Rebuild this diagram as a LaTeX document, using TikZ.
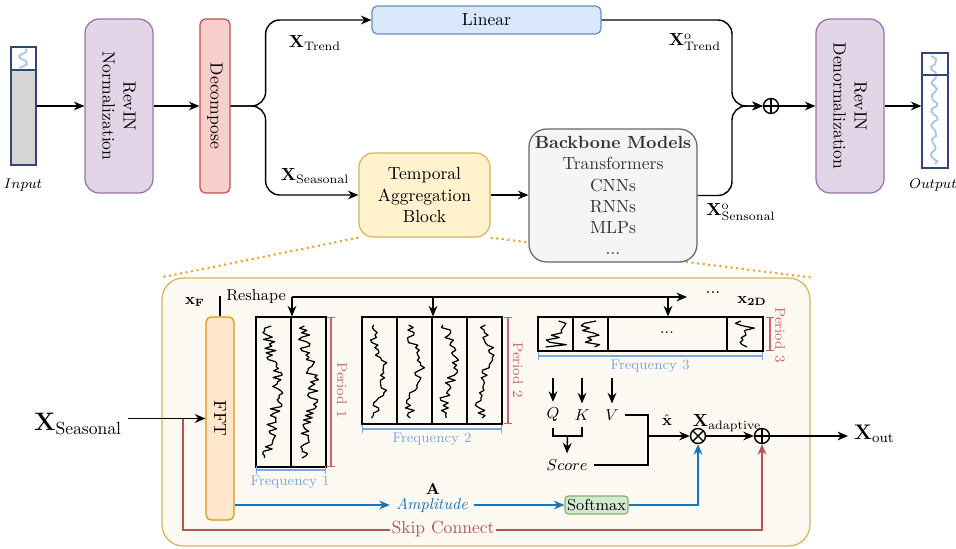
\documentclass[tikz,border=0pt]{standalone}
\usepackage{amsmath}
\usepackage{tikz}
\usetikzlibrary{arrows.meta}
\definecolor{revfill}{RGB}{225,213,231}
\definecolor{revline}{RGB}{150,115,166}
\definecolor{decfill}{RGB}{248,206,204}
\definecolor{decline}{RGB}{184,84,80}
\definecolor{linfill}{RGB}{218,232,252}
\definecolor{linline}{RGB}{108,142,191}
\definecolor{tabfill}{RGB}{255,242,204}
\definecolor{tabline}{RGB}{214,182,86}
\definecolor{bbfill}{RGB}{245,245,245}
\definecolor{bbline}{RGB}{102,102,102}
\definecolor{bbtext}{RGB}{51,51,51}
\definecolor{bigfill}{RGB}{252,249,242}
\definecolor{fftfill}{RGB}{255,230,204}
\definecolor{fftline}{RGB}{215,155,0}
\definecolor{smfill}{RGB}{213,232,212}
\definecolor{smline}{RGB}{130,179,102}
\definecolor{dotc}{RGB}{232,168,40}
\definecolor{ampc}{RGB}{22,116,187}
\definecolor{skipc}{RGB}{184,84,80}
\definecolor{perc}{RGB}{204,102,102}
\definecolor{freqc}{RGB}{126,166,224}
\definecolor{barline}{RGB}{49,72,115}
\definecolor{bargray}{RGB}{213,213,213}
\definecolor{wavec}{RGB}{169,196,235}
\pgfdeclarelayer{bg}
\pgfsetlayers{bg,main}

\begin{document}
\begin{tikzpicture}[x=0.02cm,y=-0.02cm,
  box/.style={draw,line width=0.7pt,inner sep=0pt},
  arr/.style={-{Stealth[length=6pt,width=5pt]},line width=0.8pt},
  ln/.style={line width=0.8pt},
  opx/.style={circle,draw,line width=0.8pt,minimum size=0.3cm,inner sep=0pt},
  addop/.style={opx,path picture={\draw[line width=0.8pt] (path picture bounding box.north) -- (path picture bounding box.south) (path picture bounding box.west) -- (path picture bounding box.east);}},
  mulop/.style={opx,path picture={\draw[line width=0.8pt] (path picture bounding box.north west) -- (path picture bounding box.south east) (path picture bounding box.north east) -- (path picture bounding box.south west);}},
  wave/.style={line width=0.7pt,line join=round},
  pbar/.style={perc,line width=0.7pt,{Bar[width=5pt]}-{Bar[width=5pt]}},
  fbar/.style={freqc,line width=0.7pt,{Bar[width=5pt]}-{Bar[width=5pt]}}]
\useasboundingbox (0,0) rectangle (956,548);
\pgfmathsetseed{11}
% input series
\fill[bargray] (11,70) rectangle (36,165);
\draw[wavec,line width=1pt] plot[variable=\t,domain=49:68,samples=12] ({23+4*sin(30*\t)+rand},\t);
\node[draw=barline,line width=0.7pt,minimum width=0.5cm,minimum height=2.36cm,inner sep=0pt] (inp) at (23.5,106) {};
\draw[barline,line width=0.7pt] (inp.west |- 0,70) -- (inp.east |- 0,70);
\node[font=\footnotesize] (inplab) at (23,185) {$Input$};
% top row
\node[box,fill=revfill,draw=revline,rounded corners=8pt,minimum width=1.36cm,minimum height=3.48cm] (rin) at (119,106) {};
\node[rotate=-90,align=center] (rintxt) at (rin) {RevIN\\Normalization};
\node[box,fill=decfill,draw=decline,rounded corners=3pt,minimum width=0.6cm,minimum height=3.48cm] (dec) at (215,106) {};
\node[rotate=-90] (dectxt) at (dec) {Decompose};
\node[box,fill=linfill,draw=linline,rounded corners=3pt,minimum width=4.58cm,minimum height=0.56cm] (lin) at (486.5,20) {Linear};
\node[box,fill=tabfill,draw=tabline,rounded corners=8pt,minimum width=2.62cm,minimum height=1.68cm,align=center] (tab) at (424.5,195) {Temporal\\Aggregation\\Block};
\node[box,fill=bbfill,draw=bbline,text=bbtext,rounded corners=10pt,minimum width=3.36cm,minimum height=2.66cm,align=center] (bb) at (613,195.5) {\textbf{Backbone Models}\\Transformers\\CNNs\\RNNs\\MLPs\\...};
\node[addop] (add1) at (771,106) {};
\node[box,fill=revfill,draw=revline,rounded corners=8pt,minimum width=1.36cm,minimum height=3.48cm] (dnm) at (850,106) {};
\node[rotate=-90,align=center] (dnmtxt) at (dnm) {RevIN\\Denormalization};
% output series
\draw[wavec,line width=1pt] plot[variable=\t,domain=56:164,samples=40] ({934+3*sin(25*\t)+1.5*rand},\t);
\node[draw=barline,line width=0.7pt,minimum width=0.52cm,minimum height=2.3cm,inner sep=0pt] (outp) at (935,110.5) {};
\draw[barline,line width=0.7pt] (outp.west |- 0,75) -- (outp.east |- 0,75);
\node[font=\footnotesize,inner sep=1pt] (outlab) at (933,185) {$Output$};
% top arrows
\draw[arr] (inp.east) -- (rin.west);
\draw[arr] (rin.east) -- (dec.west);
\draw[arr,rounded corners=8pt] (dec.east) -- ++(35,0) |- (lin.west);
\draw[arr,rounded corners=8pt] (dec.east) -- ++(35,0) |- (tab.west);
\draw[arr] (tab.east) -- (tab.east -| bb.west);
\coordinate (mrg) at (732,106);
\draw[arr,rounded corners=8pt] (lin.east) -| (mrg) -- (add1.west);
\draw[arr,rounded corners=8pt] (bb.east) -| (mrg) -- (add1.west);
\draw[arr] (add1.east) -- (dnm.west);
\draw[arr] (dnm.east) -- (dnm.east -| outp.west);
\node (xtr) at (315,43) {$\mathbf{X}_{\mathrm{Trend}}$};
\node (xse) at (315,176) {$\mathbf{X}_{\mathrm{Seasonal}}$};
\node[inner sep=1pt] (xtro) at (695,42) {$\mathbf{X}^{\mathrm{o}}_{\mathrm{Trend}}$};
\node[inner sep=1pt] (xseo) at (741,212) {$\mathbf{X}^{\mathrm{o}}_{\mathrm{Sensonal}}$};
% zoomed block
\node[draw=tabline,fill=bigfill,line width=0.7pt,rounded corners=12pt,minimum width=12.96cm,minimum height=5.36cm] (big) at (486,412) {};
\begin{pgfonlayer}{bg}
\draw[dotc,dotted,line width=1.2pt] (tab.south west) -- (big.north west);
\draw[dotc,dotted,line width=1.2pt] (tab.south east) -- (big.north east);
\end{pgfonlayer}
\node[box,fill=fftfill,draw=fftline,rounded corners=3pt,minimum width=0.56cm,minimum height=4.06cm] (fft) at (220,418.5) {};
\node[rotate=-90] (ffttxt) at (fft) {FFT};
\node[font=\Large] (xs) at (78,424) {$\mathbf{X}_{\mathrm{Seasonal}}$};
\draw[arr] (xs.east |- fft.west) -- (fft.west);
% skip connection
\coordinate (skp) at (183,418.5);
\coordinate (skb) at (183,530);
\node[addop] (add2) at (762,436) {};
\draw[arr,skipc] (skp) -- (skb) -| (add2.south);
\node[fill=bigfill,text=skipc,inner sep=1pt] (skl) at (443,529) {Skip Connect};
% reshape
\node[font=\small] (resh) at (256,297) {Reshape};
\node[font=\small] (xf) at (195,302) {$\mathbf{x_F}$};
\draw[ln] (fft.north) |- (resh.west);
\coordinate (rse) at (687,297);
\draw[arr] (resh.east) -- (rse);
\node (dots1) at (713,293) {...};
\node[font=\small] (x2d) at (752,301) {$\mathbf{x_{2D}}$};
% frequency blocks
\node[draw,line width=0.7pt,minimum width=1.4cm,minimum height=3cm,inner sep=0pt] (f1) at (291,392) {};
\node[draw,line width=0.7pt,minimum width=2.8cm,minimum height=2.14cm,inner sep=0pt] (f2) at (432,370.5) {};
\node[draw,line width=0.7pt,minimum width=4.5cm,minimum height=0.68cm,inner sep=0pt] (f3) at (650.5,334) {};
\foreach \c in {291} \draw[line width=0.7pt] (\c,317) -- (\c,467);
\foreach \c in {397,432,467} \draw[line width=0.7pt] (\c,317) -- (\c,424);
\foreach \c in {573,608,727} \draw[line width=0.7pt] (\c,317) -- (\c,351);
\node[font=\small] (dots2) at (667,333) {...};
\foreach \c in {273.5,308.5} \draw[wave] plot[variable=\t,domain=326:458,samples=60] ({\c+6*rand+5*sin(3*\t)},\t);
\foreach \c in {379.5,414.5,449.5,484.5} \draw[wave] plot[variable=\t,domain=325:418,samples=38] ({\c+5*rand+5*sin(4*\t+\c)},\t);
\foreach \c in {555.5,590.5,745} \draw[wave] plot[variable=\t,domain=321:347,samples=12] ({\c+11*rand},\t);
\coordinate (d1) at (292,297);
\coordinate (d2) at (433,297);
\coordinate (d3) at (668,297);
\draw[arr] (d1) -- (d1 |- f1.north);
\draw[arr] (d2) -- (d2 |- f2.north);
\draw[arr] (d3) -- (d3 |- f3.north);
% periods and frequencies
\draw[pbar] (331,317) -- (331,467);
\node[perc,rotate=-90,font=\footnotesize] (p1) at (342,390) {Period 1};
\draw[pbar] (508,317) -- (508,424);
\node[perc,rotate=-90,font=\footnotesize] (p2) at (518,370) {Period 2};
\draw[pbar] (770,317) -- (770,351);
\node[perc,rotate=-90,font=\footnotesize] (p3) at (780,335) {Period 3};
\draw[fbar] (256,470) -- (326,470);
\node[freqc,font=\footnotesize] (q1) at (290,482) {Frequency 1};
\draw[fbar] (362,429) -- (502,429);
\node[freqc,font=\footnotesize] (q2) at (432,439) {Frequency 2};
\draw[fbar] (538,356) -- (763,356);
\node[freqc,font=\footnotesize] (q3) at (650,366) {Frequency 3};
% attention
\node[font=\small] (q) at (553,415) {$Q$};
\node[font=\small] (k) at (582,415) {$K$};
\node[font=\small] (v) at (612,415) {$V$};
\foreach \n in {q,k,v} \draw[arr] (\n |- 0,378) -- (\n.north);
\node[font=\small] (score) at (567,465) {$Score$};
\coordinate (qk) at (567.5,436);
\draw[ln] (q.south) |- (qk) -| (k.south);
\draw[arr] (qk) -- (score.north);
\node[mulop] (mult) at (698,436) {};
\coordinate (vs) at (648,436);
\draw[ln] (v.east) -| (vs);
\draw[ln] (score.east) -| (vs);
\draw[arr] (vs) -- (mult.west);
\node[font=\small] (xhat) at (667,420) {$\hat{\mathbf{x}}$};
\node (xad) at (727,423) {$\mathbf{X}_{\mathrm{adaptive}}$};
\draw[arr] (mult.east) -- (add2.west);
\node[font=\large,anchor=west] (xout) at (848,434) {$\mathbf{X}_{\mathrm{out}}$};
\draw[arr] (add2.east) -- (add2.east -| xout.west);
% amplitude branch
\node[ampc,font=\small] (amp) at (432,505) {\textit{Amplitude}};
\node[font=\small] (abold) at (433,489) {$\mathbf{A}$};
\node[box,fill=smfill,draw=smline,rounded corners=2pt,minimum width=1.26cm,minimum height=0.36cm,font=\small] (sm) at (596.5,505) {Softmax};
\draw[arr,ampc] (fft.east |- amp) -- (amp.west);
\draw[arr,ampc] (amp.east) -- (sm.west);
\draw[arr,ampc] (sm.east) -| (mult.south);
\end{tikzpicture}
\end{document}
